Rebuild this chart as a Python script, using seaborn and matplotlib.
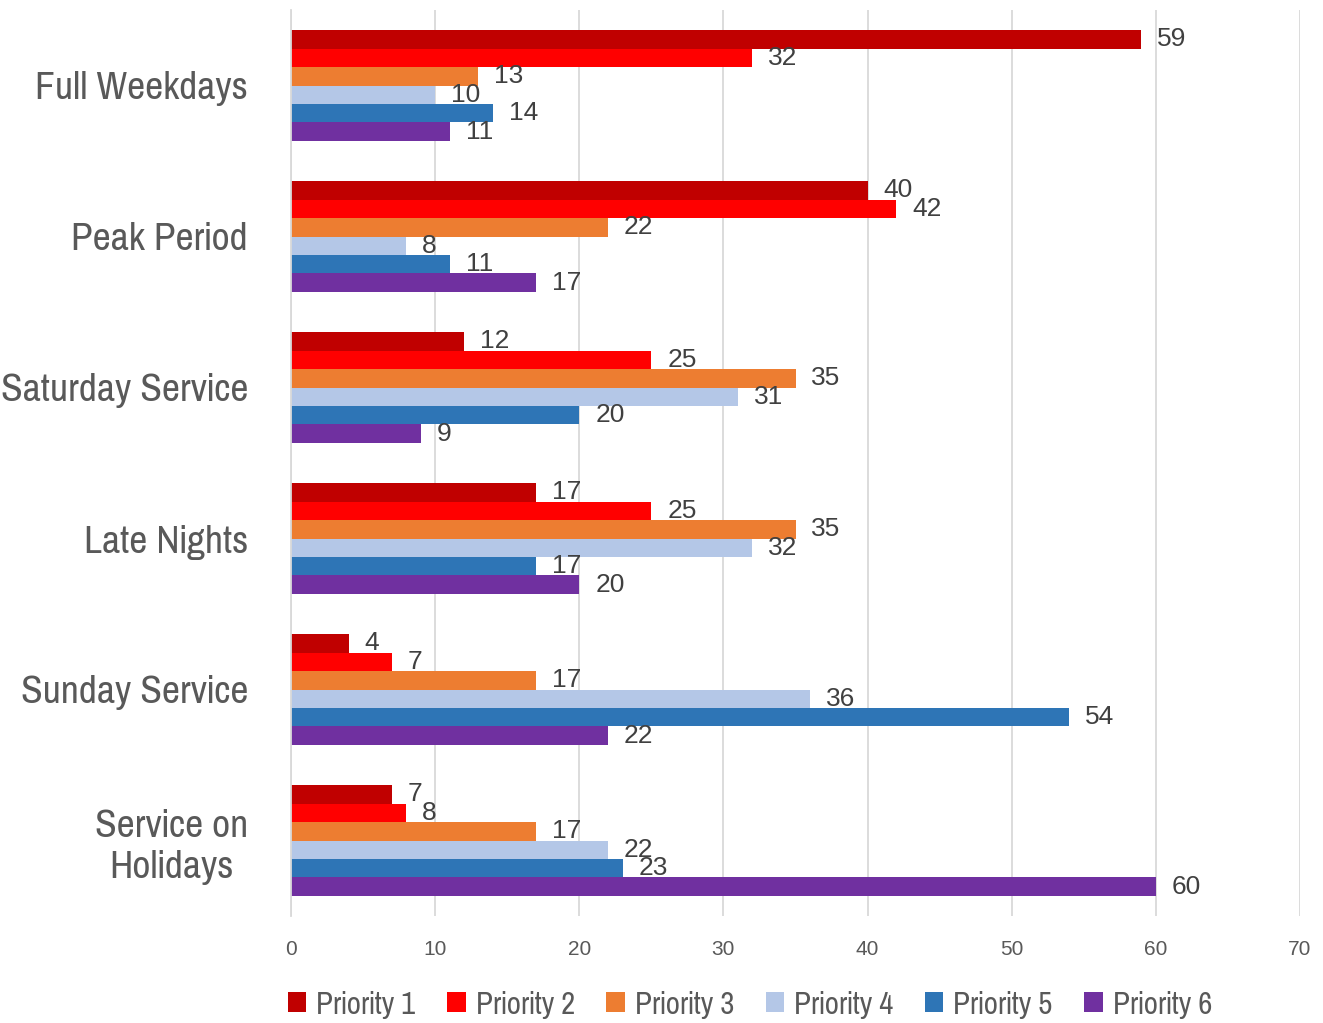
import matplotlib
matplotlib.use("Agg")
import matplotlib.pyplot as plt
from matplotlib.patches import Patch
import seaborn as sns
import pandas as pd

categories = ["Full Weekdays", "Peak Period", "Saturday Service",
              "Late Nights", "Sunday Service", "Service on\nHolidays"]
priorities = ["Priority 1", "Priority 2", "Priority 3",
              "Priority 4", "Priority 5", "Priority 6"]
priority_1 = [59, 40, 12, 17, 4, 7]
priority_2 = [32, 42, 25, 25, 7, 8]
priority_3 = [13, 22, 35, 35, 17, 17]
priority_4 = [10, 8, 31, 32, 36, 22]
priority_5 = [14, 11, 20, 17, 54, 23]
priority_6 = [11, 17, 9, 20, 22, 60]
colors = ["#C00000", "#FF0000", "#ED7D31", "#B4C7E7", "#2E75B6", "#7030A0"]

series = [priority_1, priority_2, priority_3, priority_4, priority_5, priority_6]
rows = []
for name, vals in zip(priorities, series):
    for cat, v in zip(categories, vals):
        rows.append({"Category": cat, "Priority": name, "Value": v})
df = pd.DataFrame(rows)

sns.set_theme(style="white")
narrow = ["Pragati Narrow", "Archivo Narrow", "DejaVu Sans"]
plt.rcParams["font.family"] = ["Liberation Sans", "DejaVu Sans"]

fig = plt.figure(figsize=(13.23, 10.23), dpi=100)
ax = fig.add_axes([291 / 1323, 1 - 916 / 1023, (1300 - 291) / 1323, 906 / 1023])

sns.barplot(data=df, y="Category", x="Value", hue="Priority",
            order=categories, hue_order=priorities, palette=colors,
            orient="h", width=0.735, saturation=1, ax=ax, legend=False,
            linewidth=0)

for cont in ax.containers:
    ax.bar_label(cont, padding=11.5, fontsize=19, color="#404040")

ax.set_xlim(0, 70)
ax.set_ylim(5.5, -0.5)
ax.set_xticks(range(0, 71, 10))
ax.xaxis.grid(True, color="#D9D9D9", linewidth=1.3)
ax.set_axisbelow(True)
for s in ["top", "right", "bottom"]:
    ax.spines[s].set_visible(False)
ax.spines["left"].set_color("#D9D9D9")
ax.spines["left"].set_linewidth(1.3)
ax.set_xlabel("")
ax.set_ylabel("")
ax.tick_params(axis="x", length=0, pad=17, labelsize=15, labelcolor="#595959")
ax.tick_params(axis="y", length=0, pad=31)
for lbl in ax.get_yticklabels():
    lbl.set_fontfamily(narrow)
    lbl.set_fontsize(31)
    lbl.set_color("#595959")
    lbl.set_multialignment("center")

handles = [Patch(facecolor=c, edgecolor="none") for c in colors]
leg = fig.legend(handles, priorities, loc="center", ncol=6,
                 bbox_to_anchor=(750 / 1323, 1 - 1005 / 1023), frameon=False,
                 handlelength=0.55, handleheight=0.55, handletextpad=0.3,
                 columnspacing=0.95, prop={"family": narrow, "size": 24})
for t in leg.get_texts():
    t.set_color("#595959")

fig.savefig("out.png", dpi=100)
